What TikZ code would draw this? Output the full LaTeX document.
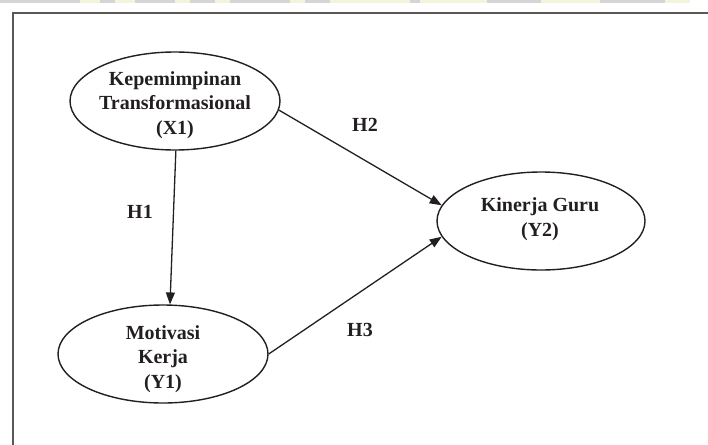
\documentclass[tikz,border=0pt]{standalone}
\usepackage{fontspec}
\setmainfont{Liberation Serif}
\usetikzlibrary{shapes.geometric,arrows.meta}
\definecolor{ink}{HTML}{231F20}
\definecolor{frame}{HTML}{5A5755}
\definecolor{bandgray}{HTML}{D5D5D5}
\definecolor{bandpale}{HTML}{F4F4DC}
\begin{document}
\begin{tikzpicture}[x=1pt,y=-1pt,
  latent/.style={draw=ink,line width=1.4pt,ellipse,minimum width=210pt,minimum height=98pt,inner sep=0pt},
  lbl/.style={font=\fontsize{20}{24.5}\selectfont\bfseries,text=ink,align=center,inner sep=0pt},
  hyp/.style={font=\fontsize{20}{24}\selectfont\bfseries,text=ink,inner sep=0pt},
  conn/.style={draw=ink,line width=1.3pt,-{Triangle[length=12pt,width=9pt]}}]
\useasboundingbox (0,0) rectangle (708,444);
\clip (0,0) rectangle (708,444);
% top watermark band
\fill[bandpale] (0,0) rectangle (690,3.5);
\foreach \a/\b in {0/80,100/115,135/175,190/215,230/290,305/330,410/420,487/541,600/665}
  \fill[bandgray] (\a,0) rectangle (\b,3.5);
% frame
\draw[frame,line width=2pt] (712,13) -- (13,13) -- (13,448);
% nodes
\node[latent] (x1) at (175,101) {};
\node[latent] (y1) at (163,354) {};
\node[latent,minimum width=208pt] (y2) at (541,221) {};
\node[lbl] (x1t) at (175,105) {Kepemimpinan\\Transformasional\\(X1)};
\node[lbl] (y1t) at (163,359) {Motivasi\\Kerja\\(Y1)};
\node[lbl] (y2t) at (540,219) {Kinerja Guru\\(Y2)};
% connectors
\draw[conn] (x1.-89) -- (y1.82);
\draw[conn] (x1.-5) -- (y2.171);
\draw[conn] (y1.0) -- (y2.-171);
% hypothesis labels
\node[hyp] (h1) at (140,212) {H1};
\node[hyp] (h2) at (365,125) {H2};
\node[hyp] (h3) at (360,330) {H3};
\end{tikzpicture}
\end{document}
